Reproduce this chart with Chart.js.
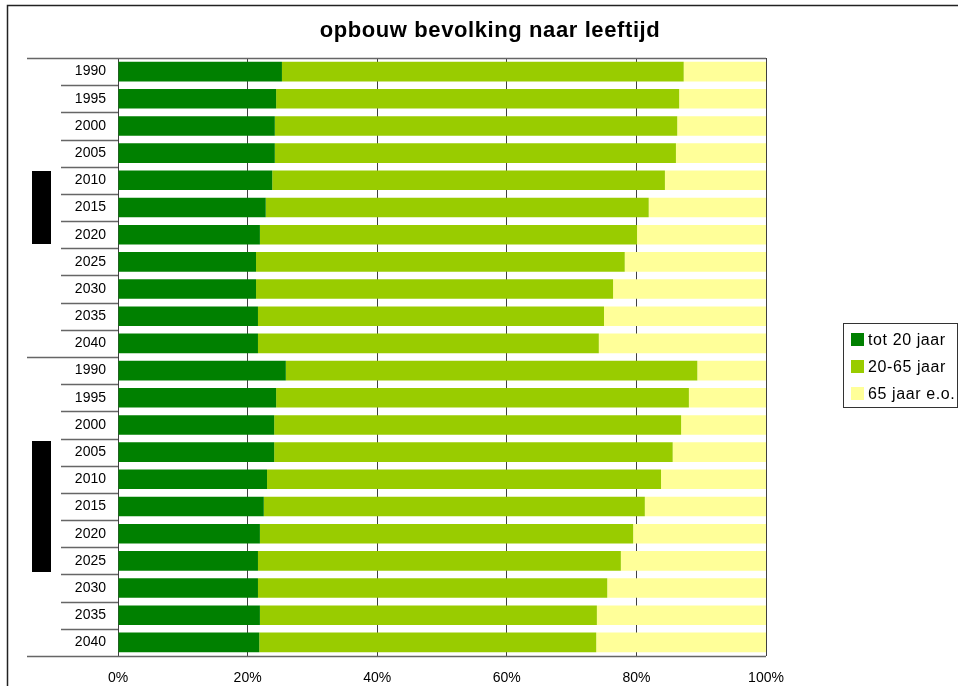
<!DOCTYPE html>
<html>
<head>
<meta charset="utf-8">
<title>opbouw bevolking naar leeftijd</title>
<script src="https://cdn.jsdelivr.net/npm/chart.js@4/dist/chart.umd.min.js"></script>
<style>
  html, body { margin: 0; padding: 0; background: #fff; }
  canvas { display: block; }
</style>
</head>
<body>
<canvas id="chart" width="958" height="686"></canvas>
<script>
// two blocks of years, shares in percent per age group
const years = ['1990', '1995', '2000', '2005', '2010', '2015', '2020', '2025', '2030', '2035', '2040'];
const categories = years.concat(years);

const tot20 = [25.3, 24.4, 24.2, 24.2, 23.8, 22.8, 21.9, 21.3, 21.3, 21.6, 21.6,
               25.9, 24.4, 24.1, 24.1, 23.0, 22.5, 21.9, 21.6, 21.6, 21.9, 21.8];
const tot65 = [62.0, 62.2, 62.1, 61.9, 60.6, 59.1, 58.2, 56.9, 55.1, 53.4, 52.6,
               63.5, 63.7, 62.8, 61.5, 60.8, 58.8, 57.6, 56.0, 53.9, 52.0, 52.0];
const boven65 = [12.7, 13.4, 13.7, 13.9, 15.6, 18.1, 19.9, 21.8, 23.6, 25.0, 25.8,
                 10.6, 11.9, 13.1, 14.4, 16.2, 18.7, 20.5, 22.4, 24.5, 26.1, 26.2];

const seriesNames = ['tot 20 jaar', '20-65 jaar', '65 jaar e.o.'];
const seriesColors = ['#008000', '#99CC00', '#FFFF99'];
const xTicks = [0, 20, 40, 60, 80, 100];
const chartTitle = 'opbouw bevolking naar leeftijd';

Chart.defaults.font.family = "'Liberation Sans', Arial, sans-serif";
Chart.defaults.color = '#000';

// frame, title, category dividers, group blocks and legend
const decorations = {
    id: 'decorations',
    beforeDatasetsDraw(chart) {
        const ctx = chart.ctx;
        const area = chart.chartArea;
        const yScale = chart.scales.y;
        const n = categories.length;
        const pitch = (yScale.bottom - yScale.top) / n;

        ctx.save();
        ctx.strokeStyle = '#666';
        ctx.lineWidth = 1.5;
        for (let i = 0; i <= n; i++) {
            const y = Math.round(yScale.top + i * pitch) + 0.5;
            const start = (i % years.length === 0) ? 27 : 61;
            const end = (i === 0 || i === n) ? area.right : area.left;
            ctx.beginPath();
            ctx.moveTo(start, y);
            ctx.lineTo(end, y);
            ctx.stroke();
        }
        ctx.restore();
    },
    afterDraw(chart) {
        const ctx = chart.ctx;
        const yScale = chart.scales.y;
        const n = categories.length;
        const pitch = (yScale.bottom - yScale.top) / n;

        ctx.save();
        // outer frame
        ctx.strokeStyle = '#222';
        ctx.lineWidth = 1.5;
        ctx.strokeRect(7.5, 5.5, 2000, 2000);

        // title
        ctx.fillStyle = '#000';
        ctx.font = "bold 22px 'Liberation Sans', Arial, sans-serif";
        ctx.letterSpacing = '0.6px';
        ctx.textAlign = 'center';
        ctx.textBaseline = 'middle';
        ctx.fillText(chartTitle, 490, 31);

        // group label blocks, one per block of years
        const blockHeights = [73, 131];
        blockHeights.forEach((h, g) => {
            const mid = yScale.top + (g + 0.5) * years.length * pitch;
            ctx.fillStyle = '#000';
            ctx.fillRect(32, Math.round(mid - h / 2), 19, h);
        });

        // legend
        ctx.strokeStyle = '#333';
        ctx.lineWidth = 1;
        ctx.strokeRect(843.5, 323.5, 114, 84);
        ctx.font = "16px 'Liberation Sans', Arial, sans-serif";
        ctx.letterSpacing = '0.6px';
        ctx.textAlign = 'left';
        ctx.textBaseline = 'middle';
        chart.data.datasets.forEach((ds, k) => {
            const cy = 339.5 + k * 27;
            ctx.fillStyle = ds.backgroundColor;
            ctx.fillRect(851, Math.round(cy - 6.5), 13, 13);
            ctx.fillStyle = '#000';
            ctx.fillText(ds.label, 868, cy + 1);
        });
        ctx.restore();
    }
};

const datasets = [tot20, tot65, boven65].map((values, i) => ({
    label: seriesNames[i],
    data: values,
    backgroundColor: seriesColors[i],
    borderWidth: 0,
    barPercentage: 0.72,
    categoryPercentage: 1
}));

new Chart(document.getElementById('chart').getContext('2d'), {
    type: 'bar',
    data: {
        labels: categories,
        datasets: datasets
    },
    options: {
        indexAxis: 'y',
        responsive: false,
        animation: false,
        layout: {
            padding: { top: 58, right: 192, bottom: 0, left: 0 }
        },
        scales: {
            x: {
                stacked: true,
                min: 0,
                max: 100,
                afterBuildTicks: scale => {
                    scale.ticks = xTicks.map(v => ({ value: v }));
                },
                afterFit: scale => { scale.height = 30; },
                ticks: {
                    callback: v => v + '%',
                    font: { size: 14 },
                    padding: 14,
                    maxRotation: 0,
                    autoSkip: false
                },
                grid: {
                    color: '#404040',
                    lineWidth: 1,
                    drawTicks: false
                },
                border: { display: false }
            },
            y: {
                stacked: true,
                afterFit: scale => { scale.width = 118; },
                ticks: {
                    font: { size: 14 },
                    padding: 12,
                    autoSkip: false
                },
                grid: { display: false, drawTicks: false },
                border: { display: false }
            }
        },
        plugins: {
            legend: { display: false },
            title: { display: false },
            tooltip: { enabled: false }
        }
    },
    plugins: [decorations]
});
</script>
</body>
</html>
